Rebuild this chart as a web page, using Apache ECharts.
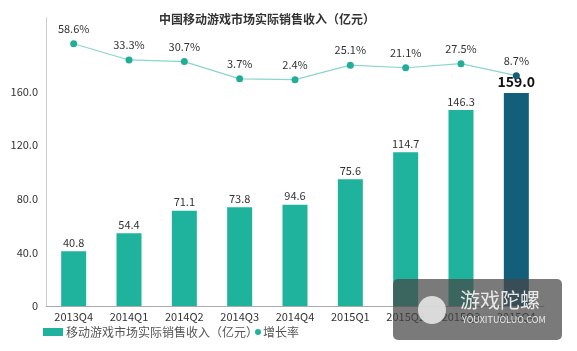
<!DOCTYPE html>
<html>
<head>
<meta charset="utf-8">
<script src="https://cdn.jsdelivr.net/npm/echarts@6/dist/echarts.min.js"></script>
<style>
html, body { margin: 0; padding: 0; background: #fff; }
#main { width: 577px; height: 351px; }
</style>
</head>
<body>
<div id="main"></div>
<script>
var quarters = ['2013Q4', '2014Q1', '2014Q2', '2014Q3', '2014Q4', '2015Q1', '2015Q2', '2015Q3', '2015Q4'];
var revenue = [40.8, 54.4, 71.1, 73.8, 75.6, 94.6, 114.7, 146.3, 159.0];
// labels as printed on the original picture
var revenueLabels = ['40.8', '54.4', '71.1', '73.8', '94.6', '75.6', '114.7', '146.3', '159.0'];
var growth = [58.6, 33.3, 30.7, 3.7, 2.4, 25.1, 21.1, 27.5, 8.7];
var yTicks = [0, 40, 80, 120, 160];

var teal = '#1fb39d';
var dark = '#135f7b';
var font = '"Noto Sans CJK SC", "Noto Sans", sans-serif';

var barData = revenue.map(function (v, i) {
    var last = i === revenue.length - 1;
    return {
        value: v,
        itemStyle: { color: last ? dark : teal },
        label: last ? { fontSize: 14, fontWeight: 'bold', color: '#111', distance: 4 } : {}
    };
});
var lineData = growth.map(function (v, i) {
    var last = i === growth.length - 1;
    return { value: v, itemStyle: { color: last ? dark : '#22ad98' } };
});

var chart = echarts.init(document.getElementById('main'));
chart.setOption({
    backgroundColor: '#fff',
    textStyle: { fontFamily: font },
    title: {
        text: '中国移动游戏市场实际销售收入（亿元）',
        left: 262,
        top: 8,
        textAlign: 'center',
        textStyle: { fontSize: 12, fontWeight: 'bold', color: '#333', fontFamily: font }
    },
    legend: [
        {
            left: 38,
            top: 321,
            itemWidth: 20,
            itemHeight: 8,
            itemGap: 0,
            textStyle: { fontSize: 12, color: '#555', fontFamily: font, padding: [0, 0, 0, -2] },
            data: [{ name: '移动游戏市场实际销售收入（亿元）', icon: 'rect', itemStyle: { color: teal } }]
        },
        {
            left: 250,
            top: 321,
            itemWidth: 6,
            itemHeight: 6,
            textStyle: { fontSize: 12, color: '#555', fontFamily: font, padding: [0, 0, 0, -3] },
            data: [{ name: '增长率', icon: 'circle', itemStyle: { color: teal } }]
        }
    ],
    grid: { left: 46, right: 33, top: 18, bottom: 45 },
    xAxis: {
        type: 'category',
        data: quarters,
        axisLine: { lineStyle: { color: '#aaa' } },
        axisTick: { show: false },
        axisLabel: { color: '#333', fontSize: 11, margin: 5 }
    },
    yAxis: [
        {
            type: 'value',
            min: 0,
            max: 215,
            interval: 40,
            splitLine: { show: false },
            axisLine: { show: true, lineStyle: { color: '#ccc' } },
            axisTick: { show: false },
            axisLabel: {
                color: '#333',
                fontSize: 11,
                margin: 8,
                showMaxLabel: false,
                formatter: function (v) {
                    return yTicks.indexOf(v) < 0 ? '' : (v === 0 ? '0' : v.toFixed(1));
                }
            }
        },
        {
            type: 'value',
            min: -352,
            max: 99,
            show: false,
            splitLine: { show: false }
        }
    ],
    series: [
        {
            name: '移动游戏市场实际销售收入（亿元）',
            type: 'bar',
            barWidth: 25,
            data: barData,
            label: {
                show: true,
                position: 'top',
                distance: 3,
                fontSize: 11,
                color: '#333',
                formatter: function (p) { return revenueLabels[p.dataIndex]; }
            }
        },
        {
            name: '增长率',
            type: 'line',
            yAxisIndex: 1,
            data: lineData,
            symbol: 'circle',
            symbolSize: 7,
            lineStyle: { color: '#8ad6ca', width: 1.2 },
            label: {
                show: true,
                position: 'top',
                distance: 6,
                fontSize: 11,
                color: '#333',
                formatter: function (p) { return p.value.toFixed(1) + '%'; }
            }
        }
    ],
    graphic: [
        {
            type: 'rect',
            shape: { x: 393, y: 279, width: 169, height: 61, r: 5 },
            style: { fill: 'rgba(70,70,70,0.72)' },
            z: 100
        },
        {
            type: 'circle',
            shape: { cx: 432, cy: 310, r: 14 },
            style: { fill: 'rgba(235,235,235,0.85)' },
            z: 101
        },
        {
            type: 'text',
            x: 460,
            y: 290,
            style: { text: '游戏陀螺', fill: '#e8e8e8', fontSize: 20, fontFamily: font },
            z: 101
        },
        {
            type: 'text',
            x: 462,
            y: 315,
            style: { text: 'YOUXITUOLUO.COM', fill: '#e8e8e8', fontSize: 9, fontFamily: font },
            z: 101
        }
    ]
});
</script>
</body>
</html>
